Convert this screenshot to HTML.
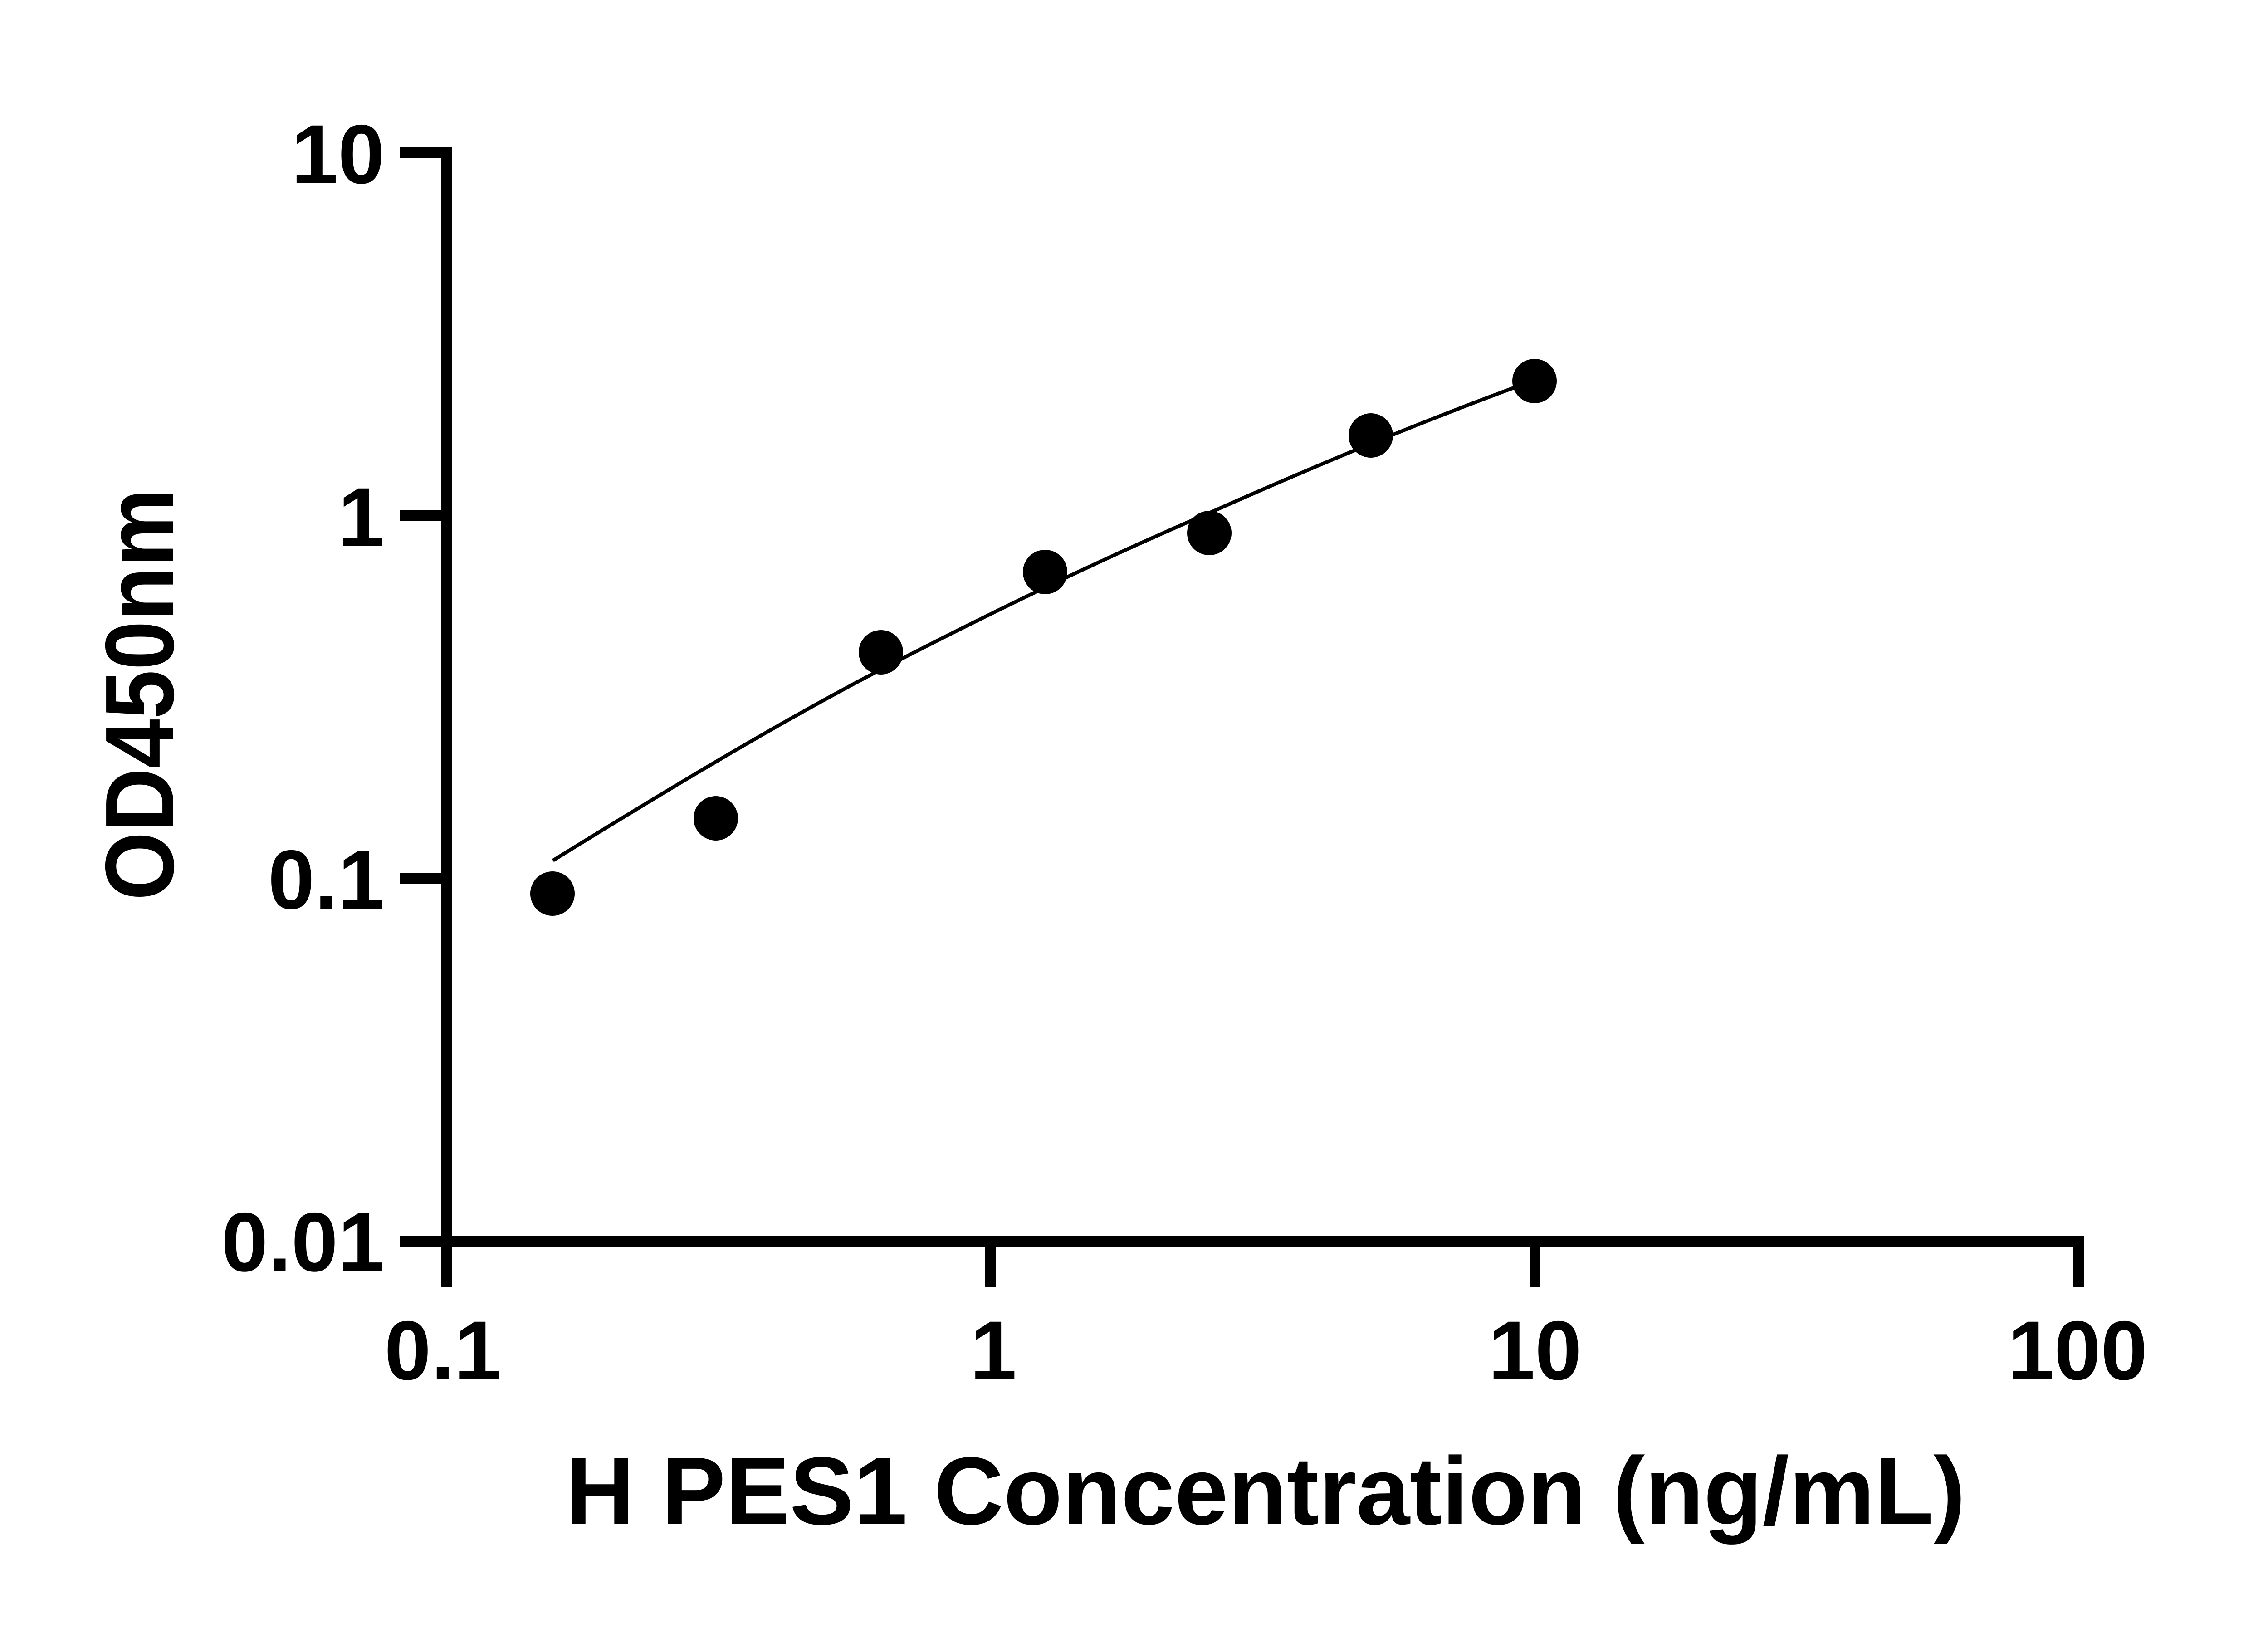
<!DOCTYPE html>
<html><head><meta charset="utf-8"><style>html,body{margin:0;padding:0;background:#fff}svg{display:block}</style></head>
<body>
<svg width="5136" height="3600" viewBox="0 0 5136 3600" xmlns="http://www.w3.org/2000/svg" font-family="Liberation Sans, sans-serif" font-weight="bold">
<rect width="5136" height="3600" fill="#fff"/>
<rect x="972" y="324" width="24" height="2514" fill="#000"/>
<rect x="882" y="2724" width="3713" height="24" fill="#000"/>
<g fill="#000">
<rect x="882" y="324" width="100" height="24"/>
<rect x="882" y="1124" width="100" height="24"/>
<rect x="882" y="1924" width="100" height="24"/>
<rect x="2171" y="2736" width="24" height="102"/>
<rect x="3372" y="2736" width="24" height="102"/>
<rect x="4571" y="2736" width="24" height="102"/>
</g>
<g font-size="185" text-anchor="end">
<text x="848" y="404">10</text>
<text x="848" y="1204">1</text>
<text x="848" y="2003">0.1</text>
<text x="848" y="2802">0.01</text>
</g>
<g font-size="185" text-anchor="middle">
<text x="976" y="3041">0.1</text>
<text x="2190" y="3041">1</text>
<text x="3384" y="3041">10</text>
<text x="4580" y="3041">100</text>
</g>
<text x="1246" y="3360" font-size="212" textLength="3087" lengthAdjust="spacingAndGlyphs">H PES1 Concentration (ng/mL)</text>
<text transform="translate(382,1985) rotate(-90)" font-size="215" textLength="908" lengthAdjust="spacingAndGlyphs">OD450nm</text>
<path d="M1219,1897 C1465,1745 1715,1594 1946,1474 C2185,1350 2425,1234 2670,1129 C2895,1029 3120,935 3345,852" fill="none" stroke="#000" stroke-width="8"/>
<g fill="#000">
<circle cx="1218" cy="1970" r="49"/>
<circle cx="1578" cy="1804" r="49"/>
<circle cx="1942" cy="1438" r="49"/>
<circle cx="2304" cy="1261" r="49"/>
<circle cx="2666" cy="1175" r="49"/>
<circle cx="3022" cy="960" r="49"/>
<circle cx="3383" cy="840" r="49"/>
</g>
</svg>
</body></html>
